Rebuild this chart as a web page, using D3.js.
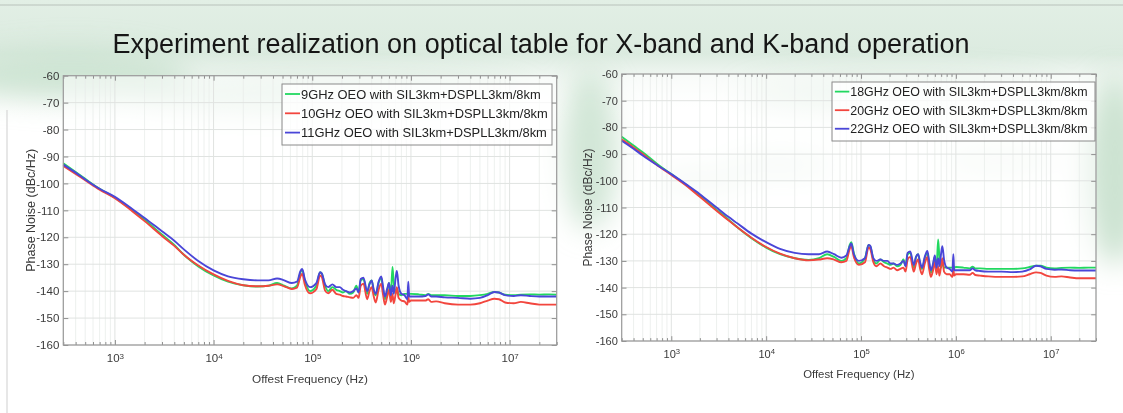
<!DOCTYPE html>
<html>
<head>
<meta charset="utf-8">
<script src="https://cdn.jsdelivr.net/npm/d3@7"></script>
<style>
  body { margin: 0; background: #fff; }
  svg { display: block; }
</style>
</head>
<body>
<svg id="chart" width="1123" height="413"></svg>
<script>
let font = "'Liberation Sans', Arial, sans-serif";

let titleText = "Experiment realization on optical table for X-band and K-band operation";
let yLabel = "Phase Noise (dBc/Hz)";
let xLabel = "Offest Frequency (Hz)";

// frequency grid shared by all curves (Hz)
let freqs = [300, 400, 500, 700, 1000, 1500, 2000, 3000, 4000, 5000,
    7000, 10000, 14000, 20000, 28000, 36000, 44000, 52000, 62000, 70000,
    76000, 79000, 84000, 95000, 110000, 120000, 125000, 135000, 145000, 160000,
    175000, 190000, 205000, 220000, 240000, 260000, 280000, 295000, 310000, 330000,
    360000, 380000, 400000, 420000, 440000, 470000, 500000, 520000, 545000, 575000,
    600000, 625000, 650000, 670000, 700000, 720000, 750000, 800000, 860000, 920000,
    940000, 960000, 1000000, 1200000, 1400000, 1500000, 1600000, 1800000, 2200000, 3000000,
    4000000, 5000000, 6000000, 7000000, 7800000, 9000000, 11000000, 13000000, 16000000, 20000000,
    25000000, 30000000];

// X-band panel (dBc/Hz)
let xbandNames = ["9GHz OEO with SIL3km+DSPLL3km/8km", "10GHz OEO with SIL3km+DSPLL3km/8km", "11GHz OEO with SIL3km+DSPLL3km/8km"];
let x9 = [-92.5, -95.8, -98.3, -102, -105.3, -110, -113.5, -119, -122.8, -126.5,
    -130.8, -134.2, -136.5, -137.8, -138.3, -138, -137, -138, -139, -138,
    -133, -132, -136, -140, -138, -133, -133.5, -138, -140, -138.5,
    -139.5, -140, -140.5, -140, -141, -140.5, -138, -140.5, -136, -135.5,
    -141, -137, -136, -140, -141.5, -137, -135, -139, -143, -140,
    -137, -142, -131, -137, -141, -139, -141, -141.5, -141, -141,
    -140.5, -141, -141, -141.2, -141.5, -141, -141.5, -141.5, -141.5, -141.8,
    -141.8, -141.5, -141, -140.3, -140.5, -141.3, -141.5, -141.3, -141.2, -141.3,
    -141.2, -141.3];
let x10 = [-93.5, -96.5, -98.8, -102.3, -105.5, -110.3, -114, -119.5, -123.2, -126.5,
    -130.5, -133.8, -136.2, -137.8, -138.2, -138, -137.5, -138.2, -139.2, -138.7,
    -134.5, -133.5, -137.5, -140.8, -139.3, -134.2, -134.8, -139.8, -140.8, -139.5,
    -141, -141.3, -141.8, -142, -142.3, -142.5, -141.5, -142.5, -138, -137.2,
    -143, -140, -138.5, -142, -144.2, -139.5, -137.2, -141, -145, -142,
    -139.5, -144, -141, -144.5, -141, -138.5, -142.5, -143.5, -143.8, -145,
    -142, -144, -143.5, -143.5, -143.5, -143, -144, -143.8, -144.5, -145,
    -145, -144.5, -143.5, -142.8, -143, -144.2, -144.5, -144, -144.5, -145,
    -145, -145];
let x11 = [-93, -96, -98.5, -102, -105, -109.5, -112.8, -117.8, -121.3, -124.5,
    -128.8, -132.3, -134.5, -135.6, -136, -136, -135.3, -136, -137, -136.5,
    -132.5, -131.8, -135.5, -138.5, -137, -133, -133.5, -137.5, -138.5, -137.5,
    -138.5, -138.5, -139.5, -140, -140.5, -140, -139, -140.5, -135.5, -135,
    -140, -137.5, -136, -139.5, -141, -136.5, -134.5, -138, -142, -139,
    -137, -141.5, -138, -141, -135, -132.5, -138, -141, -141.5, -143,
    -136.5, -142, -142, -142, -141.8, -141.2, -142, -142, -142.3, -142.5,
    -142.8, -142.5, -141.5, -140.3, -140.5, -141.5, -141.8, -141.5, -141.8, -142,
    -142, -142];

// K-band panel (dBc/Hz)
let kbandNames = ["18GHz OEO with SIL3km+DSPLL3km/8km", "20GHz OEO with SIL3km+DSPLL3km/8km", "22GHz OEO with SIL3km+DSPLL3km/8km"];
let k18 = [-83.5, -86.8, -89.3, -93.5, -97.5, -102, -105.5, -110.8, -114.5, -117.5,
    -121.5, -125, -127.5, -129, -129.6, -129, -127.5, -128.5, -130, -129,
    -124, -123, -127, -131, -129, -124, -124.5, -129.5, -131, -129.5,
    -130.5, -131, -131.5, -131, -132, -131.5, -129.5, -132, -127.5, -127,
    -132.5, -128.5, -127.5, -131.5, -133, -129, -127, -130.5, -134.5, -131.5,
    -128.5, -133, -122, -128.5, -132.5, -130.5, -132.5, -132.5, -132.5, -132.5,
    -132, -132.5, -132.3, -132.5, -132.8, -132.2, -132.8, -132.8, -133, -133,
    -133, -132.8, -132.3, -131.8, -131.8, -132.5, -132.8, -132.6, -132.5, -132.6,
    -132.5, -132.5];
let k20 = [-84.5, -87.5, -90, -94, -97.8, -102.3, -106, -111.2, -114.8, -117.5,
    -121.3, -124.8, -127.3, -129, -129.8, -129.5, -129, -129.5, -130.5, -130,
    -125.5, -124.5, -128.5, -131.5, -130.5, -125, -125.5, -130.5, -132, -131,
    -132, -132.5, -133, -132.5, -133.5, -133, -132.5, -134, -129.5, -128.5,
    -134, -131, -129.5, -133, -135, -131, -128.5, -132.5, -136, -133.5,
    -130.5, -135, -132, -135.5, -131.5, -129, -134, -135, -135, -136,
    -133, -135.5, -135, -135, -135.2, -134.5, -135.3, -135.5, -135.8, -136,
    -136, -135.8, -135, -134.3, -134.5, -135.5, -136, -135.8, -136.2, -136.5,
    -136.5, -136.5];
let k22 = [-85, -88, -90.5, -94, -97.5, -101.8, -105, -110, -113.5, -116,
    -119.8, -123, -125.5, -127, -127.5, -127.5, -126.5, -127.5, -128.8, -128,
    -124.5, -123.5, -127.5, -130, -129, -124, -124.3, -129, -130, -129.5,
    -130, -130, -131, -131, -131.5, -131, -130, -132, -127, -126.5,
    -131.5, -128.5, -127.5, -130.5, -132.5, -128.5, -126.3, -129.5, -133.5, -131,
    -128, -132.5, -129, -132, -127, -124.5, -129.5, -132.5, -133, -134,
    -127.5, -133.5, -133.5, -133.5, -133.5, -132.8, -133.5, -133.8, -134, -134,
    -134.2, -134, -133.2, -131.8, -132, -133, -133.3, -133.2, -133.5, -133.6,
    -133.6, -133.6];

let yTicks = [-60, -70, -80, -90, -100, -110, -120, -130, -140, -150, -160];
let xMajor = [1e3, 1e4, 1e5, 1e6, 1e7];
let xDomain = [300, 3e7];
let yDomain = [-160, -60];
let colors = ["#22d860", "#f2463e", "#4a46d8"];

let svg = d3.select("#chart");

// --- slide background ---
let defs = svg.append("defs");
let grad = defs.append("linearGradient").attr("id", "topwash").attr("x1", 0).attr("y1", 0).attr("x2", 0).attr("y2", 1);
grad.append("stop").attr("offset", "0%").attr("stop-color", "#e2efe5");
grad.append("stop").attr("offset", "45%").attr("stop-color", "#dcebe0");
grad.append("stop").attr("offset", "100%").attr("stop-color", "#ffffff").attr("stop-opacity", 0);
defs.append("filter").attr("id", "blur").attr("x", "-50%").attr("y", "-50%").attr("width", "200%").attr("height", "200%")
    .append("feGaussianBlur").attr("stdDeviation", 14);

svg.append("rect").attr("width", 1123).attr("height", 413).attr("fill", "#fff");
svg.append("rect").attr("width", 1123).attr("height", 120).attr("fill", "url(#topwash)");

let blobs = [[70, 75, 120, 25, 0.8], [330, 95, 200, 20, 0.5], [590, 150, 28, 80, 0.8], [1115, 170, 30, 95, 0.9],
    [700, 180, 45, 8, 0.5], [780, 165, 55, 10, 0.4], [1000, 160, 60, 10, 0.35], [900, 95, 160, 18, 0.5]];
svg.append("g").attr("filter", "url(#blur)").selectAll("ellipse").data(blobs).enter().append("ellipse")
    .attr("cx", d => d[0]).attr("cy", d => d[1]).attr("rx", d => d[2]).attr("ry", d => d[3])
    .attr("fill", "#c6e0cc").attr("opacity", d => d[4]);

svg.append("line").attr("x1", 0).attr("x2", 1123).attr("y1", 5).attr("y2", 5).attr("stroke", "#b9c2bb").attr("stroke-width", 1);
svg.append("line").attr("x1", 7).attr("x2", 7).attr("y1", 110).attr("y2", 413).attr("stroke", "#cfcfcf").attr("stroke-width", 1);

svg.append("text")
    .attr("x", 541).attr("y", 53)
    .attr("text-anchor", "middle")
    .attr("font-family", font).attr("font-size", "27px")
    .attr("fill", "#161616")
    .text(titleText);

function minorTicks() {
    let list = [];
    for (let e = 2; e <= 7; e++) {
        for (let m = 1; m <= 9; m++) {
            let v = m * Math.pow(10, e);
            if (m > 1 && v >= xDomain[0] && v <= xDomain[1]) list.push(v);
        }
    }
    return list;
}

function zeichnePanel(p) {
    let x = d3.scaleLog().domain(xDomain).range([p.left, p.right]);
    let y = d3.scaleLinear().domain(yDomain).range([p.bottom, p.top]);
    let s = p.scale;
    let g = svg.append("g");

    // plot area (semi transparent like the pasted figure)
    g.append("rect").attr("x", p.left).attr("y", p.top)
        .attr("width", p.right - p.left).attr("height", p.bottom - p.top)
        .attr("fill", "#fff").attr("fill-opacity", 0.55);

    // grid
    g.selectAll(".minorgrid").data(minorTicks()).enter().append("line")
        .attr("x1", d => x(d)).attr("x2", d => x(d)).attr("y1", p.top).attr("y2", p.bottom)
        .attr("stroke", "#e9ecea").attr("stroke-width", 0.8);
    g.selectAll(".majorgrid").data(xMajor).enter().append("line")
        .attr("x1", d => x(d)).attr("x2", d => x(d)).attr("y1", p.top).attr("y2", p.bottom)
        .attr("stroke", "#e0e3e1").attr("stroke-width", 1);
    g.selectAll(".ygrid").data(yTicks).enter().append("line")
        .attr("x1", p.left).attr("x2", p.right).attr("y1", d => y(d)).attr("y2", d => y(d))
        .attr("stroke", "#e0e3e1").attr("stroke-width", 1);

    // curves
    let line = d3.line().x((d, i) => x(freqs[i])).y(d => y(d)).curve(d3.curveMonotoneX);
    p.series.forEach((serie, i) => {
        g.append("path").datum(serie)
            .attr("d", line)
            .attr("fill", "none")
            .attr("stroke", colors[i])
            .attr("stroke-width", 1.9)
            .attr("stroke-linejoin", "round");
    });

    // axes (ticks inside, box on)
    let tickCol = "#8f8f8f";
    let bottom = g.append("g").attr("transform", "translate(0," + p.bottom + ")")
        .call(d3.axisBottom(x).tickValues(xMajor).tickSizeInner(-5 * s).tickSizeOuter(0).tickPadding(9 * s));
    bottom.selectAll(".tick text").each(function (d) {
        let t = d3.select(this);
        t.text(null).attr("dy", "0.71em");
        t.append("tspan").text("10");
        t.append("tspan").attr("dy", "-0.45em").attr("font-size", (8 * s) + "px").text(Math.round(Math.log10(d)));
    });
    g.append("g").attr("transform", "translate(0," + p.bottom + ")")
        .call(d3.axisBottom(x).tickValues(minorTicks()).tickSize(-3 * s).tickFormat(""));
    g.append("g").attr("transform", "translate(0," + p.top + ")")
        .call(d3.axisTop(x).tickValues(xMajor).tickSize(-5 * s).tickFormat(""));
    g.append("g").attr("transform", "translate(0," + p.top + ")")
        .call(d3.axisTop(x).tickValues(minorTicks()).tickSize(-3 * s).tickFormat(""));
    g.append("g").attr("transform", "translate(" + p.left + ",0)")
        .call(d3.axisLeft(y).tickValues(yTicks).tickSizeInner(-5 * s).tickSizeOuter(0).tickPadding(4 * s).tickFormat(d => String(d)));
    g.append("g").attr("transform", "translate(" + p.right + ",0)")
        .call(d3.axisRight(y).tickValues(yTicks).tickSize(-5 * s).tickFormat(""));

    g.selectAll(".domain").remove();
    g.selectAll(".tick line").attr("stroke", tickCol);
    g.selectAll(".tick text").attr("font-family", font).attr("font-size", (11.5 * s) + "px").attr("fill", "#3a3a3a");

    // frame
    g.append("rect").attr("x", p.left).attr("y", p.top)
        .attr("width", p.right - p.left).attr("height", p.bottom - p.top)
        .attr("fill", "none").attr("stroke", "#9a9a9a").attr("stroke-width", 1.2);

    // labels
    g.append("text")
        .attr("transform", "translate(" + p.ylabelX + "," + ((p.top + p.bottom) / 2) + ") rotate(-90)")
        .attr("text-anchor", "middle")
        .attr("font-family", font).attr("font-size", (12.5 * s) + "px").attr("fill", "#3a3a3a")
        .text(yLabel);
    g.append("text")
        .attr("x", (p.left + p.right) / 2).attr("y", p.bottom + 38 * s)
        .attr("text-anchor", "middle")
        .attr("font-family", font).attr("font-size", (11.8 * s) + "px").attr("fill", "#3a3a3a")
        .text(xLabel);

    // legend
    let lg = g.append("g");
    lg.append("rect").attr("x", p.legX).attr("y", p.legY).attr("width", p.legW).attr("height", p.legH)
        .attr("fill", "#fff").attr("fill-opacity", 0.75).attr("stroke", "#8a8a8a").attr("stroke-width", 1);
    let rows = lg.selectAll(".row").data(p.names).enter().append("g")
        .attr("transform", (d, i) => "translate(" + (p.legX + 3 * s) + "," + (p.legY + 10 * s + i * 19.3 * s) + ")");
    rows.append("line").attr("x1", 0).attr("x2", 15 * s).attr("y1", 0).attr("y2", 0)
        .attr("stroke", (d, i) => colors[i]).attr("stroke-width", 1.8);
    rows.append("text").attr("x", 16 * s).attr("y", 0).attr("dy", "0.35em")
        .attr("font-family", font).attr("font-size", (12.9 * s) + "px").attr("fill", "#222")
        .text(d => d);
}

zeichnePanel({
    left: 63.3, right: 556.7, top: 75.7, bottom: 345, scale: 1,
    ylabelX: 35, legX: 282, legY: 84, legW: 270, legH: 61,
    names: xbandNames, series: [x9, x10, x11]
});
zeichnePanel({
    left: 621.7, right: 1096, top: 74, bottom: 341, scale: 0.962,
    ylabelX: 592, legX: 832, legY: 82, legW: 263, legH: 59,
    names: kbandNames, series: [k18, k20, k22]
});
</script>
</body>
</html>
